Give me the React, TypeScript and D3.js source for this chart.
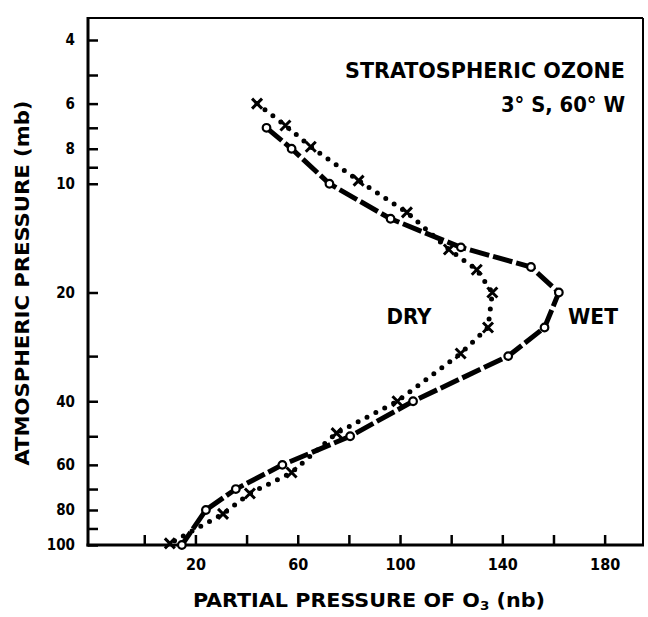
import * as d3 from "d3";
import { useEffect, useRef } from "react";

// Wet profile (open circles, dashed line)
const wetPressure = [7, 8, 10, 12.5, 15, 17, 20, 25, 30, 40, 50, 60, 70, 80, 100];
const wetOzone = [47.8, 57.6, 72.4, 96.3, 123.8, 151.2, 162.1, 156.5, 142.3, 105.1, 80.5, 54, 35.8, 24.1, 14.7];

// Dry profile (crosses, dotted line)
const dryPressure = [6, 6.9, 7.9, 9.8, 12, 15.2, 17.3, 20, 25, 29.5, 40, 49, 63, 72, 82, 99];
const dryOzone = [44.1, 55.2, 65.1, 83.8, 102.7, 119.1, 130, 136.1, 134.4, 123.7, 99, 75.2, 57.6, 41.3, 30.8, 10];

const yTicks = [4, 5, 6, 7, 8, 9, 10, 20, 30, 40, 50, 60, 70, 80, 90, 100];
const yLabels = [4, 6, 8, 10, 20, 40, 60, 80, 100];
const xTicks = [0, 20, 40, 60, 80, 100, 120, 140, 160, 180];
const xLabels = [20, 60, 100, 140, 180];

const FONT = "'DejaVu Sans Condensed', 'DejaVu Sans', sans-serif";

export default function App() {
    const svgRef = useRef<SVGSVGElement | null>(null);

    useEffect(() => {
        if (!svgRef.current) return;
        const svg = d3.select(svgRef.current);
        svg.selectAll("*").remove();

        const width = 648;
        const height = 617;
        const frameTop = 18;

        const x = d3.scaleLinear().domain([-22, 195]).range([88, 643]);
        const y = d3.scaleLog().domain([4, 100]).range([40, 545]);

        svg.attr("width", width).attr("height", height);
        svg.append("rect").attr("width", width).attr("height", height).attr("fill", "#fff");

        const g = svg.append("g");

        // frame
        const [x0, x1] = x.range();
        const yb = y(100);
        g.append("line").attr("x1", x0).attr("x2", x1).attr("y1", frameTop).attr("y2", frameTop)
            .attr("stroke", "#000").attr("stroke-width", 2);
        g.append("line").attr("x1", x1).attr("x2", x1).attr("y1", frameTop).attr("y2", yb)
            .attr("stroke", "#000").attr("stroke-width", 2);
        g.append("line").attr("x1", x0).attr("x2", x0).attr("y1", frameTop - 1).attr("y2", yb + 1.5)
            .attr("stroke", "#000").attr("stroke-width", 3);
        g.append("line").attr("x1", x0 - 1.5).attr("x2", x1 + 1).attr("y1", yb).attr("y2", yb)
            .attr("stroke", "#000").attr("stroke-width", 3);

        // y axis
        const yAxis = g.append("g")
            .attr("transform", `translate(${x0},0)`)
            .call(d3.axisLeft(y)
                .tickValues(yTicks)
                .tickSize(-10)
                .tickPadding(13)
                .tickFormat((d) => (yLabels.includes(+d) ? String(d) : "")));
        yAxis.select(".domain").remove();
        yAxis.selectAll(".tick line").attr("stroke", "#000").attr("stroke-width", 2.5);
        yAxis.selectAll(".tick text")
            .attr("fill", "#000")
            .style("font-family", FONT)
            .style("font-weight", "bold")
            .style("font-size", "15px");

        // x axis
        const xAxis = g.append("g")
            .attr("transform", `translate(0,${yb})`)
            .call(d3.axisBottom(x)
                .tickValues(xTicks)
                .tickSize(-10)
                .tickPadding(14)
                .tickFormat((d) => (xLabels.includes(+d) ? String(d) : "")));
        xAxis.select(".domain").remove();
        xAxis.selectAll(".tick line").attr("stroke", "#000").attr("stroke-width", 2.5);
        xAxis.selectAll(".tick text")
            .attr("fill", "#000")
            .style("font-family", FONT)
            .style("font-weight", "bold")
            .style("font-size", "16px");

        const line = d3.line<[number, number]>()
            .x((d) => x(d[0]))
            .y((d) => y(d[1]));

        const dry: [number, number][] = dryOzone.map((v, i) => [v, dryPressure[i]]);
        const wet: [number, number][] = wetOzone.map((v, i) => [v, wetPressure[i]]);

        // dry dotted line
        g.append("path")
            .datum(dry)
            .attr("d", line)
            .attr("fill", "none")
            .attr("stroke", "#000")
            .attr("stroke-width", 5)
            .attr("stroke-linecap", "round")
            .attr("stroke-dasharray", "0 10");

        // wet dashed line
        g.append("path")
            .datum(wet)
            .attr("d", line)
            .attr("fill", "none")
            .attr("stroke", "#000")
            .attr("stroke-width", 5)
            .attr("stroke-dasharray", "20 4");

        // dry crosses
        const s = 5;
        g.selectAll("path.cross")
            .data(dry)
            .enter()
            .append("path")
            .attr("class", "cross")
            .attr("d", (d) => {
                const cx = x(d[0]);
                const cy = y(d[1]);
                return `M${cx - s},${cy - s}L${cx + s},${cy + s}M${cx + s},${cy - s}L${cx - s},${cy + s}`;
            })
            .attr("stroke", "#000")
            .attr("stroke-width", 3)
            .attr("fill", "none");

        // wet circles
        g.selectAll("circle.wet")
            .data(wet)
            .enter()
            .append("circle")
            .attr("class", "wet")
            .attr("cx", (d) => x(d[0]))
            .attr("cy", (d) => y(d[1]))
            .attr("r", 3.8)
            .attr("fill", "#fff")
            .attr("stroke", "#000")
            .attr("stroke-width", 2.2);

        const label = (txt: string, tx: number, ty: number, size: number, anchor: string, len?: number) => {
            const t = g.append("text")
                .attr("x", tx)
                .attr("y", ty)
                .attr("text-anchor", anchor)
                .attr("fill", "#000")
                .style("font-family", FONT)
                .style("font-weight", "bold")
                .style("font-size", `${size}px`)
                .text(txt);
            if (len) t.attr("textLength", len).attr("lengthAdjust", "spacingAndGlyphs");
            return t;
        };

        label("STRATOSPHERIC OZONE", 625, 78, 22, "end", 280);
        label("3° S, 60° W", 625, 112, 22, "end", 124);
        label("DRY", 409, 324, 22, "middle", 45);
        label("WET", 593, 324, 22, "middle", 50);

        // x axis title with subscript
        const xt = g.append("text")
            .attr("x", 369)
            .attr("y", 607)
            .attr("text-anchor", "middle")
            .attr("fill", "#000")
            .attr("textLength", 352)
            .attr("lengthAdjust", "spacingAndGlyphs")
            .style("font-family", FONT)
            .style("font-weight", "bold")
            .style("font-size", "20px");
        xt.append("tspan").text("PARTIAL PRESSURE OF O");
        xt.append("tspan").attr("dy", 3).style("font-size", "13px").text("3");
        xt.append("tspan").attr("dy", -3).text(" (nb)");

        // y axis title
        label("ATMOSPHERIC PRESSURE (mb)", 0, 0, 20, "middle", 365)
            .attr("transform", "translate(29,283) rotate(-90)");
    }, []);

    return (
        <svg ref={svgRef} style={{ position: "absolute", left: 0, top: 0 }} />
    );
}
